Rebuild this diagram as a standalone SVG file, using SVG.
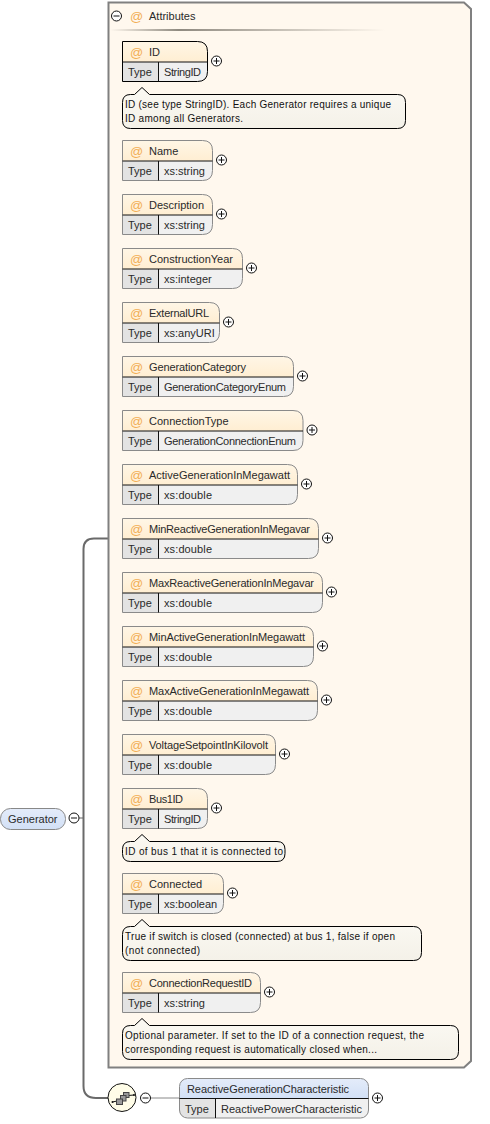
<svg xmlns="http://www.w3.org/2000/svg" width="490" height="1124" viewBox="0 0 490 1124">
<style>
text{font-family:"Liberation Sans",Arial,sans-serif;font-size:11px;fill:#2a2a2a}
.c{font-size:10px;fill:#111}
.at{font-size:13px;fill:#f2ae55}
.h{fill:url(#hd)}
.b{fill:#f0f0f0}
.t{fill:#e3e3e3}
.o{fill:none;stroke:#8a8a8a;stroke-width:1}
.r{stroke:#000}
.d{stroke:#111;stroke-width:1;fill:none}
.n{fill:url(#cm);stroke:#000;stroke-width:1}
.p{fill:#fff;stroke:#111;stroke-width:1}
.s{stroke:#111;stroke-width:1}
.w{fill:none;stroke:#6a6a6a;stroke-width:2}
</style>
<defs>
<linearGradient id="hd" x1="0" y1="0" x2="0" y2="1"><stop offset="0" stop-color="#fff6e6"/><stop offset="1" stop-color="#ffeed2"/></linearGradient>
<linearGradient id="eh" x1="0" y1="0" x2="0" y2="1"><stop offset="0" stop-color="#e4ecfa"/><stop offset="1" stop-color="#d2e0f6"/></linearGradient>
<linearGradient id="cm" x1="0" y1="0" x2="0" y2="1"><stop offset="0" stop-color="#fbf9f3"/><stop offset="1" stop-color="#f4f1e8"/></linearGradient>
<linearGradient id="ln" x1="0" y1="0" x2="1" y2="0"><stop offset="0" stop-color="#fff8ee"/><stop offset=".25" stop-color="#8f8a80"/><stop offset="1" stop-color="#fff8ee"/></linearGradient>
<g id="plus"><circle r="5" class="p"/><path d="M-3 0H3M0 -3V3" class="s"/></g>
<g id="minus"><circle r="5" class="p"/><path d="M-3 0H3" class="s"/></g>
</defs>

<g id="connectors">
<path class="w" d="M108 538.500H94Q83.500 538.500 83.500 549V1086Q83.500 1098 96 1098H108"/>
<path d="M79 818H83" stroke="#666" stroke-width="1"/>
<path d="M150 1098H180" stroke="#888" stroke-width="1"/>
</g>

<g id="attributes">
<path d="M108.500 2.500H464L471 9V1061L464 1067.500H108.500Z" fill="#fff8ee" stroke="#808080" stroke-width="2"/>
<rect x="110" y="29" width="275" height="2" fill="url(#ln)"/>
<use href="#minus" x="116.500" y="16"/>
<text class="at" x="130" y="21">@</text>
<text x="149" y="20">Attributes</text>
</g>

<g id="attr-ID">
<path class="h" d="M122.500 41.500H197.500Q207.500 41.500 207.500 51.500V62H122.500Z"/>
<path class="b" d="M158.500 62H207.500V71.500Q207.500 81.500 197.500 81.500H158.500Z"/>
<rect class="t" x="122.500" y="62" width="36" height="19.500"/>
<path class="o r" d="M122.500 41.500H197.500Q207.500 41.500 207.500 51.500V71.500Q207.500 81.500 197.500 81.500H122.500Z"/>
<path class="d" d="M122.500 62H207.500M158.500 62V81.500"/>
<text class="at" x="130" y="57">@</text><text x="149" y="56">ID</text>
<text x="128" y="76">Type</text><text x="164" y="76" textLength="37">StringID</text>
<use href="#plus" x="216.500" y="61"/>
</g>
<g id="note-ID">
<path class="n" d="M130.500 94.500H134.500L142 87.500L149.500 94.500H397.500Q405.500 94.500 405.500 102.500V120.500Q405.500 128.500 397.500 128.500H130.500Q122.500 128.500 122.500 120.500V102.500Q122.500 94.500 130.500 94.500Z"/>
<text class="c" x="125" y="108" textLength="266">ID (see type StringID). Each Generator requires a unique</text>
<text class="c" x="125" y="122" textLength="118">ID among all Generators.</text>
</g>

<g id="attr-Name">
<path class="h" d="M122.500 140.500H202.500Q212.500 140.500 212.500 150.500V161H122.500Z"/>
<path class="b" d="M158.500 161H212.500V170.500Q212.500 180.500 202.500 180.500H158.500Z"/>
<rect class="t" x="122.500" y="161" width="36" height="19.500"/>
<path class="o" d="M122.500 140.500H202.500Q212.500 140.500 212.500 150.500V170.500Q212.500 180.500 202.500 180.500H122.500Z"/>
<path class="d" d="M122.500 161H212.500M158.500 161V180.500"/>
<text class="at" x="130" y="156">@</text><text x="149" y="155">Name</text>
<text x="128" y="175">Type</text><text x="164" y="175">xs:string</text>
<use href="#plus" x="221.500" y="160"/>
</g>

<g id="attr-Description">
<path class="h" d="M122.500 194.500H202.500Q212.500 194.500 212.500 204.500V215H122.500Z"/>
<path class="b" d="M158.500 215H212.500V224.500Q212.500 234.500 202.500 234.500H158.500Z"/>
<rect class="t" x="122.500" y="215" width="36" height="19.500"/>
<path class="o" d="M122.500 194.500H202.500Q212.500 194.500 212.500 204.500V224.500Q212.500 234.500 202.500 234.500H122.500Z"/>
<path class="d" d="M122.500 215H212.500M158.500 215V234.500"/>
<text class="at" x="130" y="210">@</text><text x="149" y="209">Description</text>
<text x="128" y="229">Type</text><text x="164" y="229">xs:string</text>
<use href="#plus" x="221.500" y="214"/>
</g>

<g id="attr-ConstructionYear">
<path class="h" d="M122.500 248.500H232.500Q242.500 248.500 242.500 258.500V269H122.500Z"/>
<path class="b" d="M158.500 269H242.500V278.500Q242.500 288.500 232.500 288.500H158.500Z"/>
<rect class="t" x="122.500" y="269" width="36" height="19.500"/>
<path class="o" d="M122.500 248.500H232.500Q242.500 248.500 242.500 258.500V278.500Q242.500 288.500 232.500 288.500H122.500Z"/>
<path class="d" d="M122.500 269H242.500M158.500 269V288.500"/>
<text class="at" x="130" y="264">@</text><text x="149" y="263">ConstructionYear</text>
<text x="128" y="283">Type</text><text x="164" y="283">xs:integer</text>
<use href="#plus" x="251.500" y="268"/>
</g>

<g id="attr-ExternalURL">
<path class="h" d="M122.500 302.500H209.500Q219.500 302.500 219.500 312.500V323H122.500Z"/>
<path class="b" d="M158.500 323H219.500V332.500Q219.500 342.500 209.500 342.500H158.500Z"/>
<rect class="t" x="122.500" y="323" width="36" height="19.500"/>
<path class="o" d="M122.500 302.500H209.500Q219.500 302.500 219.500 312.500V332.500Q219.500 342.500 209.500 342.500H122.500Z"/>
<path class="d" d="M122.500 323H219.500M158.500 323V342.500"/>
<text class="at" x="130" y="318">@</text><text x="149" y="317" textLength="60">ExternalURL</text>
<text x="128" y="337">Type</text><text x="164" y="337">xs:anyURI</text>
<use href="#plus" x="228.500" y="322"/>
</g>

<g id="attr-GenerationCategory">
<path class="h" d="M122.500 356.500H283.500Q293.500 356.500 293.500 366.500V377H122.500Z"/>
<path class="b" d="M158.500 377H293.500V386.500Q293.500 396.500 283.500 396.500H158.500Z"/>
<rect class="t" x="122.500" y="377" width="36" height="19.500"/>
<path class="o" d="M122.500 356.500H283.500Q293.500 356.500 293.500 366.500V386.500Q293.500 396.500 283.500 396.500H122.500Z"/>
<path class="d" d="M122.500 377H293.500M158.500 377V396.500"/>
<text class="at" x="130" y="372">@</text><text x="149" y="371" textLength="97">GenerationCategory</text>
<text x="128" y="391">Type</text><text x="164" y="391" textLength="122">GenerationCategoryEnum</text>
<use href="#plus" x="302.500" y="376"/>
</g>

<g id="attr-ConnectionType">
<path class="h" d="M122.500 410.500H293Q303 410.500 303 420.500V431H122.500Z"/>
<path class="b" d="M158.500 431H303V440.500Q303 450.500 293 450.500H158.500Z"/>
<rect class="t" x="122.500" y="431" width="36" height="19.500"/>
<path class="o" d="M122.500 410.500H293Q303 410.500 303 420.500V440.500Q303 450.500 293 450.500H122.500Z"/>
<path class="d" d="M122.500 431H303M158.500 431V450.500"/>
<text class="at" x="130" y="426">@</text><text x="149" y="425">ConnectionType</text>
<text x="128" y="445">Type</text><text x="164" y="445" textLength="132">GenerationConnectionEnum</text>
<use href="#plus" x="312" y="430"/>
</g>

<g id="attr-ActiveGenerationInMegawatt">
<path class="h" d="M122.500 464.500H287.500Q297.500 464.500 297.500 474.500V485H122.500Z"/>
<path class="b" d="M158.500 485H297.500V494.500Q297.500 504.500 287.500 504.500H158.500Z"/>
<rect class="t" x="122.500" y="485" width="36" height="19.500"/>
<path class="o" d="M122.500 464.500H287.500Q297.500 464.500 297.500 474.500V494.500Q297.500 504.500 287.500 504.500H122.500Z"/>
<path class="d" d="M122.500 485H297.500M158.500 485V504.500"/>
<text class="at" x="130" y="480">@</text><text x="149" y="479" textLength="141">ActiveGenerationInMegawatt</text>
<text x="128" y="499">Type</text><text x="164" y="499" textLength="48">xs:double</text>
<use href="#plus" x="306.500" y="484"/>
</g>

<g id="attr-MinReactiveGenerationInMegavar">
<path class="h" d="M122.500 518.500H308.500Q318.500 518.500 318.500 528.500V539H122.500Z"/>
<path class="b" d="M158.500 539H318.500V548.500Q318.500 558.500 308.500 558.500H158.500Z"/>
<rect class="t" x="122.500" y="539" width="36" height="19.500"/>
<path class="o" d="M122.500 518.500H308.500Q318.500 518.500 318.500 528.500V548.500Q318.500 558.500 308.500 558.500H122.500Z"/>
<path class="d" d="M122.500 539H318.500M158.500 539V558.500"/>
<text class="at" x="130" y="534">@</text><text x="149" y="533" textLength="161">MinReactiveGenerationInMegavar</text>
<text x="128" y="553">Type</text><text x="164" y="553" textLength="48">xs:double</text>
<use href="#plus" x="327.500" y="538"/>
</g>

<g id="attr-MaxReactiveGenerationInMegavar">
<path class="h" d="M122.500 572.500H312.500Q322.500 572.500 322.500 582.500V593H122.500Z"/>
<path class="b" d="M158.500 593H322.500V602.500Q322.500 612.500 312.500 612.500H158.500Z"/>
<rect class="t" x="122.500" y="593" width="36" height="19.500"/>
<path class="o" d="M122.500 572.500H312.500Q322.500 572.500 322.500 582.500V602.500Q322.500 612.500 312.500 612.500H122.500Z"/>
<path class="d" d="M122.500 593H322.500M158.500 593V612.500"/>
<text class="at" x="130" y="588">@</text><text x="149" y="587" textLength="165">MaxReactiveGenerationInMegavar</text>
<text x="128" y="607">Type</text><text x="164" y="607" textLength="48">xs:double</text>
<use href="#plus" x="331.500" y="592"/>
</g>

<g id="attr-MinActiveGenerationInMegawatt">
<path class="h" d="M122.500 626.500H303.500Q313.500 626.500 313.500 636.500V647H122.500Z"/>
<path class="b" d="M158.500 647H313.500V656.500Q313.500 666.500 303.500 666.500H158.500Z"/>
<rect class="t" x="122.500" y="647" width="36" height="19.500"/>
<path class="o" d="M122.500 626.500H303.500Q313.500 626.500 313.500 636.500V656.500Q313.500 666.500 303.500 666.500H122.500Z"/>
<path class="d" d="M122.500 647H313.500M158.500 647V666.500"/>
<text class="at" x="130" y="642">@</text><text x="149" y="641" textLength="156">MinActiveGenerationInMegawatt</text>
<text x="128" y="661">Type</text><text x="164" y="661" textLength="48">xs:double</text>
<use href="#plus" x="322.500" y="646"/>
</g>

<g id="attr-MaxActiveGenerationInMegawatt">
<path class="h" d="M122.500 680.500H307.500Q317.500 680.500 317.500 690.500V701H122.500Z"/>
<path class="b" d="M158.500 701H317.500V710.500Q317.500 720.500 307.500 720.500H158.500Z"/>
<rect class="t" x="122.500" y="701" width="36" height="19.500"/>
<path class="o" d="M122.500 680.500H307.500Q317.500 680.500 317.500 690.500V710.500Q317.500 720.500 307.500 720.500H122.500Z"/>
<path class="d" d="M122.500 701H317.500M158.500 701V720.500"/>
<text class="at" x="130" y="696">@</text><text x="149" y="695" textLength="160">MaxActiveGenerationInMegawatt</text>
<text x="128" y="715">Type</text><text x="164" y="715" textLength="48">xs:double</text>
<use href="#plus" x="326.500" y="700"/>
</g>

<g id="attr-VoltageSetpointInKilovolt">
<path class="h" d="M122.500 734.500H265.500Q275.500 734.500 275.500 744.500V755H122.500Z"/>
<path class="b" d="M158.500 755H275.500V764.500Q275.500 774.500 265.500 774.500H158.500Z"/>
<rect class="t" x="122.500" y="755" width="36" height="19.500"/>
<path class="o" d="M122.500 734.500H265.500Q275.500 734.500 275.500 744.500V764.500Q275.500 774.500 265.500 774.500H122.500Z"/>
<path class="d" d="M122.500 755H275.500M158.500 755V774.500"/>
<text class="at" x="130" y="750">@</text><text x="149" y="749" textLength="119">VoltageSetpointInKilovolt</text>
<text x="128" y="769">Type</text><text x="164" y="769" textLength="48">xs:double</text>
<use href="#plus" x="284.500" y="754"/>
</g>

<g id="attr-Bus1ID">
<path class="h" d="M122.500 788.500H197.500Q207.500 788.500 207.500 798.500V809H122.500Z"/>
<path class="b" d="M158.500 809H207.500V818.500Q207.500 828.500 197.500 828.500H158.500Z"/>
<rect class="t" x="122.500" y="809" width="36" height="19.500"/>
<path class="o" d="M122.500 788.500H197.500Q207.500 788.500 207.500 798.500V818.500Q207.500 828.500 197.500 828.500H122.500Z"/>
<path class="d" d="M122.500 809H207.500M158.500 809V828.500"/>
<text class="at" x="130" y="804">@</text><text x="149" y="803" textLength="34">Bus1ID</text>
<text x="128" y="823">Type</text><text x="164" y="823" textLength="37">StringID</text>
<use href="#plus" x="216.500" y="808"/>
</g>
<g id="note-Bus1ID">
<path class="n" d="M130.500 841.500H134.500L142 834.500L149.500 841.500H277Q285 841.500 285 849.500V853.500Q285 861.500 277 861.500H130.500Q122.500 861.500 122.500 853.500V849.500Q122.500 841.500 130.500 841.500Z"/>
<text class="c" x="125" y="855" textLength="158">ID of bus 1 that it is connected to</text>
</g>

<g id="attr-Connected">
<path class="h" d="M122.500 873.500H213.500Q223.500 873.500 223.500 883.500V894H122.500Z"/>
<path class="b" d="M158.500 894H223.500V903.500Q223.500 913.500 213.500 913.500H158.500Z"/>
<rect class="t" x="122.500" y="894" width="36" height="19.500"/>
<path class="o" d="M122.500 873.500H213.500Q223.500 873.500 223.500 883.500V903.500Q223.500 913.500 213.500 913.500H122.500Z"/>
<path class="d" d="M122.500 894H223.500M158.500 894V913.500"/>
<text class="at" x="130" y="889">@</text><text x="149" y="888">Connected</text>
<text x="128" y="908">Type</text><text x="164" y="908">xs:boolean</text>
<use href="#plus" x="232.500" y="893"/>
</g>
<g id="note-Connected">
<path class="n" d="M130.500 926.500H134.500L142 919.500L149.500 926.500H413.500Q421.500 926.500 421.500 934.500V952.500Q421.500 960.500 413.500 960.500H130.500Q122.500 960.500 122.500 952.500V934.500Q122.500 926.500 130.500 926.500Z"/>
<text class="c" x="125" y="940" textLength="270">True if switch is closed (connected) at bus 1, false if open</text>
<text class="c" x="125" y="954" textLength="75">(not connected)</text>
</g>

<g id="attr-ConnectionRequestID">
<path class="h" d="M122.500 972.500H250.500Q260.500 972.500 260.500 982.500V993H122.500Z"/>
<path class="b" d="M158.500 993H260.500V1002.500Q260.500 1012.500 250.500 1012.500H158.500Z"/>
<rect class="t" x="122.500" y="993" width="36" height="19.500"/>
<path class="o" d="M122.500 972.500H250.500Q260.500 972.500 260.500 982.500V1002.500Q260.500 1012.500 250.500 1012.500H122.500Z"/>
<path class="d" d="M122.500 993H260.500M158.500 993V1012.500"/>
<text class="at" x="130" y="988">@</text><text x="149" y="987" textLength="103">ConnectionRequestID</text>
<text x="128" y="1007">Type</text><text x="164" y="1007">xs:string</text>
<use href="#plus" x="269.500" y="992"/>
</g>
<g id="note-ConnectionRequestID">
<path class="n" d="M130.500 1025.500H134.500L142 1018.500L149.500 1025.500H450.500Q458.500 1025.500 458.500 1033.500V1051.500Q458.500 1059.500 450.500 1059.500H130.500Q122.500 1059.500 122.500 1051.500V1033.500Q122.500 1025.500 130.500 1025.500Z"/>
<text class="c" x="125" y="1039" textLength="299">Optional parameter. If set to the ID of a connection request, the</text>
<text class="c" x="125" y="1053" textLength="252">corresponding request is automatically closed when...</text>
</g>

<g id="Generator">
<rect x="0.500" y="808.500" width="65" height="21" rx="10" fill="url(#eh)" stroke="#888"/>
<text x="8" y="823">Generator</text>
<use href="#minus" x="74" y="818"/>
</g>

<g id="sequence">
<circle cx="122" cy="1097.500" r="14" fill="#fffde8" stroke="#111" stroke-width="1"/>
<path d="M112.500 1102L117 1101M128 1095.500L134 1095" stroke="#111" stroke-width="1" fill="none"/>
<circle cx="112.500" cy="1102" r="1" fill="#111"/><circle cx="134" cy="1095" r="1" fill="#111"/>
<rect x="123.500" y="1092.500" width="5.500" height="5" fill="#999" stroke="#444"/>
<rect x="120.500" y="1095.500" width="5.500" height="5.500" fill="#999" stroke="#444"/>
<rect x="116.500" y="1099" width="6" height="5.500" fill="#999" stroke="#444"/>
<use href="#minus" x="145.500" y="1098"/>
</g>

<g id="ReactiveGenerationCharacteristic">
<path d="M179.500 1098.500V1086.500Q179.500 1078.500 187.500 1078.500H360.500Q368.500 1078.500 368.500 1086.500V1098.500Z" fill="url(#eh)"/>
<path class="b" d="M215.500 1098.500H368.500V1110Q368.500 1118 360.500 1118H215.500Z"/>
<path class="t" d="M179.500 1098.500H215.500V1118H187.500Q179.500 1118 179.500 1110Z"/>
<rect class="o" x="179.500" y="1078.500" width="189" height="39.500" rx="8"/>
<path class="d" d="M179.500 1098.500H368.500M215.500 1098.500V1118"/>
<text x="187" y="1093" textLength="162">ReactiveGenerationCharacteristic</text>
<text x="185" y="1113">Type</text><text x="221" y="1113" textLength="141">ReactivePowerCharacteristic</text>
<use href="#plus" x="377.500" y="1098"/>
</g>
</svg>
